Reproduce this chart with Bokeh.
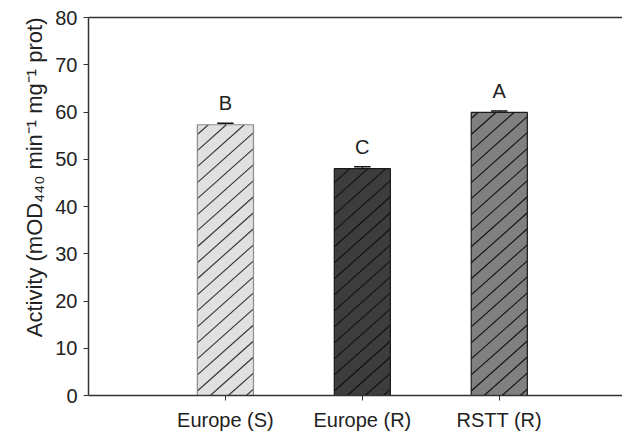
import math
from bokeh.plotting import figure
from bokeh.models import Range1d, LinearAxis, FixedTicker, ColumnDataSource, Title
from bokeh.embed import file_html
from bokeh.resources import INLINE
from bokeh.core.properties import value

categories = ["Europe (S)", "Europe (R)", "RSTT (R)"]
activity = [57.3, 48.0, 59.9]
errors = [0.3, 0.4, 0.3]
letters = ["B", "C", "A"]
fills = ["#e0e0e0", "#3d3d3d", "#808080"]
outlines = ["#8c8c8c", "#1a1a1a", "#1a1a1a"]
hatch_colors = ["#333333", "#111111", "#111111"]
positions = [1, 2, 3]

FONT = "Liberation Sans"
FS = "20px"
W, H = 622, 433
BL, BR, BT, BB = 88, 0, 17, 34
XMAX, YMAX = 3.9, 80
BAR_W = 0.41

src = ColumnDataSource(dict(
    x=positions, top=activity,
    hi=[a + e for a, e in zip(activity, errors)],
    cl=[x - 0.06 for x in positions], cr=[x + 0.06 for x in positions],
    letter=letters, fill=fills, line=outlines,
))

p = figure(width=W, height=H, output_backend="svg", toolbar_location=None,
           x_range=Range1d(0, XMAX), y_range=Range1d(0, YMAX),
           min_border_left=BL, min_border_right=BR, min_border_top=BT, min_border_bottom=BB)
p.outline_line_color = None
p.grid.visible = False

# bar fills
p.vbar(x="x", top="top", width=BAR_W, source=src, fill_color="fill", line_color=None)

# diagonal hatching (about 42 degrees on screen), derived from the bar extents
sx = (W - BL - BR) / XMAX
sy = (H - BT - BB) / YMAX
k = 0.9            # screen slope
dh = 18.0          # horizontal spacing in px
hx0, hy0, hx1, hy1, hc = [], [], [], [], []
for xc, h, col in zip(positions, activity, hatch_colors):
    x0 = xc - BAR_W / 2
    Wp = BAR_W * sx
    Hp = h * sy
    dv = k * dh
    b = -k * Wp + (dv * 0.4)
    while b < Hp:
        us = max(0.0, -b / k)
        ue = min(Wp, (Hp - b) / k)
        if ue > us:
            hx0.append(x0 + us / sx); hy0.append((k * us + b) / sy)
            hx1.append(x0 + ue / sx); hy1.append((k * ue + b) / sy)
            hc.append(col)
        b += dv
p.segment(x0=hx0, y0=hy0, x1=hx1, y1=hy1, line_color=hc, line_width=1.1)

# bar outlines
p.vbar(x="x", top="top", width=BAR_W, source=src, fill_color=None,
       line_color="line", line_width=1.2)

# error bars
p.segment(x0="x", x1="x", y0="top", y1="hi", source=src, line_color="#111111", line_width=1)
p.segment(x0="cl", x1="cr", y0="hi", y1="hi", source=src, line_color="#111111", line_width=1.5)

p.text(x="x", y="hi", text="letter", source=src, text_align="center",
       text_baseline="bottom", y_offset=-9, text_font=value(FONT),
       text_font_size=FS, text_color="#222222")

# axes styling
xa = p.xaxis[0]
xa.ticker = FixedTicker(ticks=positions)
xa.major_label_overrides = {i: c for i, c in zip(positions, categories)}
xa.minor_tick_line_color = None
xa.major_tick_out = 5
xa.major_tick_in = 0
xa.axis_line_width = 1.5
xa.axis_line_color = "#333333"
xa.major_tick_line_color = "#333333"
xa.major_label_text_font = FONT
xa.major_label_text_font_size = FS
xa.major_label_text_color = "#222222"
xa.major_label_standoff = 8

ya = p.yaxis[0]
ya.ticker = FixedTicker(ticks=list(range(0, 81, 10)))
ya.minor_tick_line_color = None
ya.major_tick_out = 5
ya.major_tick_in = 0
ya.axis_line_width = 1.5
ya.axis_line_color = "#333333"
ya.major_tick_line_color = "#333333"
ya.major_label_text_font = FONT
ya.major_label_text_font_size = FS
ya.major_label_text_color = "#222222"
ya.major_label_standoff = 6

ylabel = Title(text="Activity (mOD\u2084\u2084\u2080 min\u207b\u00b9 mg\u207b\u00b9 prot)",
               align="right", offset=0, standoff=11,
               text_font=FONT, text_font_size="22px", text_font_style="normal",
               text_color="#222222")
p.add_layout(ylabel, "left")

top_axis = LinearAxis(ticker=FixedTicker(ticks=[]), major_label_text_font_size="0px",
                      axis_line_width=1.5, axis_line_color="#333333",
                      major_tick_line_color=None, minor_tick_line_color=None)
p.add_layout(top_axis, "above")

open("out.html", "w").write(file_html(p, INLINE))
